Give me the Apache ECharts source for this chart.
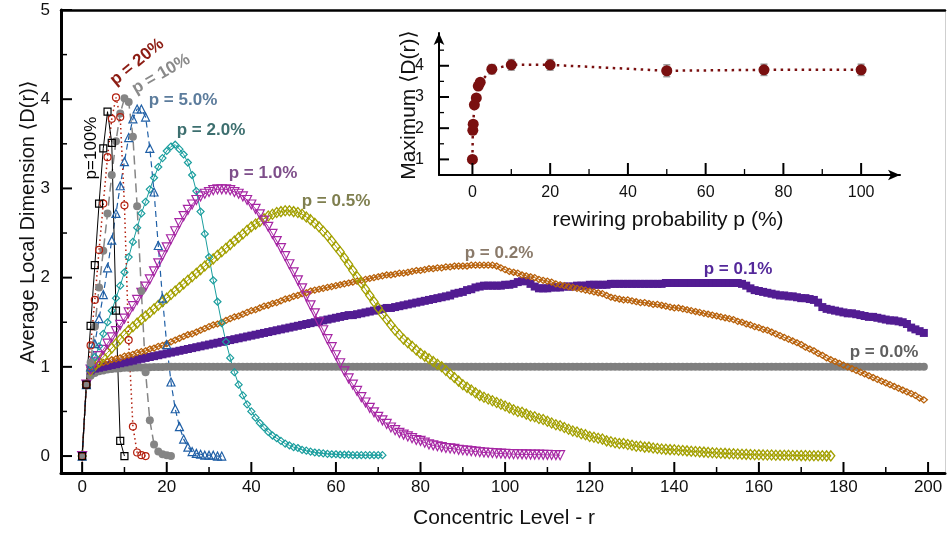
<!DOCTYPE html>
<html><head><meta charset="utf-8">
<script src="https://cdn.jsdelivr.net/npm/echarts@6/dist/echarts.min.js"></script>
<style>html,body{margin:0;padding:0;background:#fff}#c{width:950px;height:533px}</style>
</head><body><div id="c"></div>
<script>
// ---------- ticks ----------
const mainXMajor=[0,20,40,60,80,100,120,140,160,180,200];
const mainXMinor=[10,30,50,70,90,110,130,150,170,190];
const mainYMajor=[0,1,2,3,4,5];
const mainYMinor=[0.5,1.5,2.5,3.5,4.5];
const insetXMajor=[0,20,40,60,80,100];
const insetXMinor=[10,30,50,70,90];
const insetYMajor=[1,2,3,4];
const insetYMinor=[1.5,2.5,3.5,4.5];

// ---------- main series: <D(r)> at r = 0,1,2,... ----------
const p100=[0,0.8,1.46,2.14,2.83,3.45,3.86,3.51,1.63,0.17,0];
const p20=[0,0.8,1.24,1.75,2.31,2.83,3.35,3.78,4.02,3.8,2.81,1.3,0.33,0.04,0.01,0];
const p10=[0,0.8,1.05,1.45,1.89,2.3,2.72,3.15,3.53,3.84,4.01,3.97,3.58,2.8,1.85,0.94,0.4,0.13,0.05,0.02,0.01,0.0];
const p5=[0,0.8,1.0,1.26,1.54,1.81,2.11,2.42,2.72,3.03,3.3,3.57,3.78,3.89,3.89,3.8,3.45,2.96,2.36,1.77,1.25,0.83,0.53,0.33,0.19,0.1,0.05,0.03,0.02,0.01,0.01,0.01,0.0,0.0];
const p2=[0,0.8,1.02,1.11,1.23,1.37,1.5,1.63,1.77,1.91,
2.06,2.23,2.4,2.56,2.72,2.85,2.99,3.12,3.24,3.34,
3.42,3.47,3.49,3.44,3.38,3.29,3.15,2.97,2.74,2.49,
2.23,1.97,1.73,1.49,1.28,1.1,0.94,0.8,0.68,0.58,
0.5,0.43,0.37,0.32,0.27,0.23,0.2,0.17,0.14,0.12,
0.1,0.09,0.07,0.06,0.05,0.04,0.035,0.03,0.025,0.02,
0.02,0.015,0.015,0.015,0.01,0.01,0.01,0.01,0.01,0.01,
0.01,0.01];
const p1=[0,0.8,0.97,1.05,1.12,1.19,1.26,1.33,1.4,1.47,
1.54,1.61,1.68,1.75,1.83,1.9,1.98,2.07,2.16,2.25,
2.34,2.43,2.52,2.61,2.69,2.76,2.82,2.87,2.91,2.94,
2.96,2.98,2.99,2.99,2.99,2.98,2.96,2.94,2.91,2.87,
2.82,2.77,2.71,2.64,2.57,2.49,2.41,2.33,2.24,2.15,
2.06,1.97,1.88,1.79,1.69,1.6,1.5,1.41,1.31,1.22,
1.13,1.04,0.95,0.87,0.8,0.73,0.66,0.6,0.54,0.49,
0.44,0.4,0.36,0.32,0.29,0.26,0.24,0.22,0.2,0.18,
0.17,0.15,0.13,0.12,0.11,0.1,0.09,0.085,0.08,0.07,
0.065,0.06,0.055,0.05,0.045,0.04,0.037,0.034,0.031,0.028,
0.025,0.023,0.021,0.02,0.019,0.018,0.017,0.016,0.015,0.014,
0.013,0.012,0.011,0.01];
const p05=[0,0.8,0.96,1.01,1.06,1.11,1.16,1.21,1.26,1.31,
1.36,1.41,1.45,1.49,1.53,1.57,1.61,1.65,1.69,1.73,
1.77,1.81,1.85,1.89,1.93,1.97,2.01,2.05,2.09,2.13,
2.17,2.21,2.25,2.29,2.33,2.37,2.41,2.45,2.49,2.53,
2.57,2.6,2.63,2.66,2.69,2.71,2.73,2.74,2.75,2.75,
2.74,2.73,2.71,2.68,2.65,2.61,2.57,2.52,2.47,2.41,
2.35,2.29,2.22,2.15,2.08,2.01,1.94,1.87,1.8,1.73,
1.66,1.59,1.53,1.47,1.41,1.36,1.31,1.27,1.23,1.19,
1.15,1.12,1.09,1.06,1.03,1.0,0.96,0.92,0.88,0.84,
0.8,0.77,0.74,0.71,0.68,0.66,0.64,0.62,0.6,0.58,
0.56,0.54,0.52,0.5,0.49,0.47,0.45,0.44,0.42,0.41,
0.39,0.37,0.35,0.34,0.32,0.3,0.28,0.27,0.25,0.24,
0.22,0.21,0.2,0.19,0.17,0.16,0.15,0.14,0.14,0.13,
0.12,0.11,0.11,0.1,0.1,0.09,0.085,0.08,0.075,0.072,
0.07,0.066,0.062,0.058,0.054,0.05,0.047,0.044,0.041,0.038,
0.035,0.032,0.03,0.027,0.025,0.022,0.02,0.019,0.017,0.015,
0.014,0.013,0.012,0.011,0.01,0.009,0.008,0.008,0.007,0.006,
0.005,0.005,0.004,0.004,0.003,0.003,0.002,0.002];
const p02=[0,0.8,0.99,1.01,1.03,1.05,1.06,1.08,1.09,1.1,
1.12,1.13,1.14,1.16,1.17,1.18,1.2,1.21,1.23,1.24,
1.26,1.28,1.3,1.32,1.34,1.36,1.37,1.39,1.41,1.43,
1.45,1.47,1.48,1.5,1.52,1.54,1.56,1.57,1.59,1.61,
1.63,1.64,1.66,1.68,1.69,1.71,1.72,1.74,1.76,1.77,
1.79,1.8,1.82,1.83,1.85,1.86,1.87,1.88,1.89,1.9,
1.91,1.92,1.93,1.94,1.95,1.96,1.97,1.98,1.99,2.0,
2.01,2.02,2.03,2.03,2.04,2.05,2.05,2.06,2.07,2.08,
2.08,2.09,2.1,2.1,2.11,2.11,2.12,2.12,2.13,2.13,
2.13,2.13,2.14,2.14,2.14,2.14,2.14,2.14,2.13,2.11,
2.09,2.07,2.06,2.05,2.03,2.02,2.01,2.0,1.98,1.97,
1.96,1.95,1.93,1.92,1.91,1.9,1.89,1.88,1.87,1.86,
1.85,1.84,1.83,1.82,1.8,1.78,1.77,1.76,1.75,1.75,
1.74,1.73,1.72,1.72,1.71,1.7,1.7,1.69,1.68,1.67,
1.66,1.66,1.65,1.64,1.63,1.62,1.61,1.6,1.59,1.58,
1.57,1.56,1.55,1.54,1.53,1.51,1.5,1.48,1.47,1.45,
1.44,1.42,1.41,1.39,1.37,1.35,1.33,1.31,1.29,1.27,
1.25,1.22,1.2,1.18,1.15,1.13,1.1,1.08,1.06,1.04,
1.02,1.0,0.98,0.96,0.94,0.92,0.9,0.88,0.86,0.84,
0.82,0.8,0.78,0.76,0.74,0.72,0.7,0.68,0.65,0.63];
const p01=[0,0.8,0.96,0.98,0.99,1.0,1.01,1.02,1.03,1.04,
1.05,1.06,1.07,1.08,1.09,1.1,1.11,1.12,1.13,1.14,
1.15,1.16,1.17,1.18,1.19,1.2,1.21,1.22,1.23,1.24,
1.25,1.26,1.27,1.28,1.29,1.3,1.31,1.32,1.33,1.34,
1.35,1.36,1.37,1.38,1.39,1.4,1.41,1.42,1.43,1.44,
1.45,1.46,1.47,1.48,1.49,1.5,1.51,1.52,1.53,1.54,
1.55,1.56,1.57,1.58,1.58,1.59,1.6,1.61,1.62,1.63,
1.64,1.65,1.66,1.66,1.67,1.68,1.69,1.7,1.71,1.72,
1.73,1.74,1.75,1.76,1.77,1.78,1.79,1.8,1.82,1.83,
1.84,1.86,1.87,1.89,1.9,1.91,1.91,1.91,1.91,1.91,
1.92,1.92,1.93,1.95,1.96,1.96,1.93,1.9,1.88,1.88,
1.88,1.89,1.89,1.89,1.9,1.9,1.9,1.91,1.91,1.91,
1.92,1.92,1.92,1.92,1.92,1.93,1.93,1.93,1.93,1.93,
1.93,1.93,1.93,1.93,1.93,1.93,1.93,1.93,1.94,1.94,
1.94,1.94,1.94,1.94,1.94,1.94,1.94,1.94,1.94,1.94,
1.94,1.94,1.94,1.94,1.94,1.94,1.93,1.91,1.88,1.86,
1.85,1.84,1.83,1.82,1.81,1.8,1.8,1.79,1.79,1.78,
1.77,1.77,1.76,1.75,1.72,1.67,1.65,1.64,1.63,1.62,
1.61,1.6,1.6,1.59,1.58,1.57,1.56,1.56,1.55,1.54,
1.53,1.52,1.52,1.51,1.5,1.48,1.44,1.42,1.4,1.38];
const p00=[0,0.8,0.9,0.93,0.95,0.96,0.97,0.975,0.98,0.985,
0.99,0.99,0.99,0.992,0.994,0.995,0.996,0.997,0.998,0.999,
1,1,1,1,1,1,1,1,1,1, 1,1,1,1,1,1,1,1,1,1,
1,1,1,1,1,1,1,1,1,1, 1,1,1,1,1,1,1,1,1,1,
1,1,1,1,1,1,1,1,1,1, 1,1,1,1,1,1,1,1,1,1,
1,1,1,1,1,1,1,1,1,1, 1,1,1,1,1,1,1,1,1,1,
1,1,1,1,1,1,1,1,1,1, 1,1,1,1,1,1,1,1,1,1,
1,1,1,1,1,1,1,1,1,1, 1,1,1,1,1,1,1,1,1,1,
1,1,1,1,1,1,1,1,1,1, 1,1,1,1,1,1,1,1,1,1,
1,1,1,1,1,1,1,1,1,1, 1,1,1,1,1,1,1,1,1,1,
1,1,1,1,1,1,1,1,1,1, 1,1,1,1,1,1,1,1,1,1];

// ---------- inset: maximum <D(r)> vs rewiring probability ----------
const probs=[0,0.1,0.2,0.5,1,1.5,2,5,10,20,50,75,100];
const maxD=[1.0,1.93,2.13,2.75,2.97,3.35,3.47,3.89,4.03,4.03,3.84,3.87,3.87];
const errs=[0.03,0.05,0.05,0.06,0.08,0.1,0.1,0.15,0.17,0.17,0.19,0.18,0.18];

const FONT="'Liberation Sans','DejaVu Sans',sans-serif";
const toXY=a=>a.map((v,i)=>[i,v]);
const NONE='rgba(255,255,255,0)';

// frame data ranges
const MX0=-5, MX1=204, MY0=-0.19, MY1=5;
const IX0=-8.6, IX1=110, IY0=0.5, IY1=5.05;

function mainSeries(name,data,opt){
  return Object.assign({
    name:name,type:'line',xAxisIndex:0,yAxisIndex:0,data:toXY(data),
    showAllSymbol:true,silent:true,animation:false
  },opt);
}

const series=[
  mainSeries('p=0.0',p00,{symbol:'circle',symbolSize:8,itemStyle:{color:'#7f7f7f'},lineStyle:{color:'#7f7f7f',width:1}}),
  mainSeries('p=0.1',p01,{symbol:'rect',symbolSize:8,itemStyle:{color:'#521c92'},lineStyle:{color:'#521c92',width:1}}),
  mainSeries('p=0.2',p02,{symbol:'diamond',symbolSize:[7,6],itemStyle:{color:NONE,borderColor:'#b8620c',borderWidth:1.3},lineStyle:{color:'#b8620c',width:1}}),
  mainSeries('p=0.5',p05,{symbol:'diamond',symbolSize:[8,10],itemStyle:{color:NONE,borderColor:'#a3a000',borderWidth:1.3},lineStyle:{color:'#a3a000',width:1}}),
  mainSeries('p=1',p1,{symbol:'triangle',symbolRotate:180,symbolSize:9,itemStyle:{color:NONE,borderColor:'#a626a4',borderWidth:1.2},lineStyle:{color:'#a626a4',width:1}}),
  mainSeries('p=2',p2,{symbol:'diamond',symbolSize:7,itemStyle:{color:NONE,borderColor:'#1a9e9e',borderWidth:1.2},lineStyle:{color:'#1a9e9e',width:1}}),
  mainSeries('p=5',p5,{symbol:'triangle',symbolSize:8,itemStyle:{color:NONE,borderColor:'#1f5fa6',borderWidth:1.2},lineStyle:{color:'#1f5fa6',width:1.2,type:[6,4]}}),
  mainSeries('p=10',p10,{symbol:'circle',symbolSize:8,itemStyle:{color:'#858585'},lineStyle:{color:'#858585',width:1.5,type:[9,5]}}),
  mainSeries('p=20',p20,{symbol:'circle',symbolSize:7,itemStyle:{color:NONE,borderColor:'#b3200f',borderWidth:1.2},lineStyle:{color:'#b3200f',width:1.5,type:[1.5,3]}}),
  mainSeries('p=100',p100,{symbol:'rect',symbolSize:7,itemStyle:{color:NONE,borderColor:'#000',borderWidth:1.2},lineStyle:{color:'#000',width:1}}),
  {type:'line',xAxisIndex:2,yAxisIndex:2,silent:true,animation:false,z:5,
   data:probs.map((p,i)=>[p,maxD[i]]),
   symbol:'circle',symbolSize:11,showAllSymbol:true,
   itemStyle:{color:'#7a1010'},
   lineStyle:{color:'#7a1010',width:2.5,type:[2.5,4.5]}}
];

const lblStyle={fontFamily:FONT,color:'#111'};
function ax(o){return Object.assign({type:'value',splitLine:{show:false},axisTick:{show:false}},o);}
function lineOnly(o){return ax(Object.assign({axisLabel:{show:false}},o));}

const texts=[
  {type:'text',x:28,y:222,rotation:Math.PI/2,style:{text:'Average Local Dimension \u27E8D(r)\u27E9',font:'20px '+FONT,fill:'#111',align:'center',verticalAlign:'middle'}},
  {type:'text',x:504,y:518,style:{text:'Concentric Level - r',font:'21px '+FONT,fill:'#111',align:'center',verticalAlign:'middle'}},
  {type:'text',x:409,y:105,rotation:Math.PI/2,style:{text:'Maximum \u27E8D(r)\u27E9',font:'21px '+FONT,fill:'#111',align:'center',verticalAlign:'middle'}},
  {type:'text',x:668,y:220,style:{text:'rewiring probability p (%)',font:'21px '+FONT,fill:'#111',align:'center',verticalAlign:'middle'}},
  {type:'text',x:91,y:148,rotation:Math.PI/2,style:{text:'p=100%',font:'17px '+FONT,fill:'#000',align:'center',verticalAlign:'middle'}},
  {type:'text',x:137,y:62,rotation:0.68,style:{text:'p = 20%',font:'bold 17px '+FONT,fill:'#8c1c13',align:'center',verticalAlign:'middle'}},
  {type:'text',x:161,y:74,rotation:0.52,style:{text:'p = 10%',font:'bold 17px '+FONT,fill:'#8a8a8a',align:'center',verticalAlign:'middle'}},
  {type:'text',x:183,y:100,style:{text:'p = 5.0%',font:'bold 17px '+FONT,fill:'#5c7c9c',align:'center',verticalAlign:'middle'}},
  {type:'text',x:211,y:130,style:{text:'p = 2.0%',font:'bold 17px '+FONT,fill:'#3d6f6f',align:'center',verticalAlign:'middle'}},
  {type:'text',x:263,y:173,style:{text:'p = 1.0%',font:'bold 17px '+FONT,fill:'#7e4e8a',align:'center',verticalAlign:'middle'}},
  {type:'text',x:336,y:201,style:{text:'p = 0.5%',font:'bold 17px '+FONT,fill:'#7f7f4f',align:'center',verticalAlign:'middle'}},
  {type:'text',x:499,y:253,style:{text:'p = 0.2%',font:'bold 17px '+FONT,fill:'#8a7a6a',align:'center',verticalAlign:'middle'}},
  {type:'text',x:738,y:269,style:{text:'p = 0.1%',font:'bold 17px '+FONT,fill:'#54289a',align:'center',verticalAlign:'middle'}},
  {type:'text',x:884,y:352,style:{text:'p = 0.0%',font:'bold 17px '+FONT,fill:'#5f5f5f',align:'center',verticalAlign:'middle'}}
];

const option={
  backgroundColor:'#fff',
  animation:false,
  grid:[
    {left:61,top:10,right:5,bottom:60},
    {left:439,top:33,width:461,height:142}
  ],
  xAxis:[
    ax({gridIndex:0,position:'bottom',min:MX0,max:MX1,
      axisLine:{onZero:false,lineStyle:{color:'#000',width:3}},
      axisLabel:Object.assign({customValues:mainXMajor,fontSize:17,margin:6},lblStyle)}),
    lineOnly({gridIndex:0,position:'top',min:MX0,max:MX1,axisLine:{onZero:false,lineStyle:{color:'#000',width:2.5}}}),
    ax({gridIndex:1,position:'bottom',min:IX0,max:IX1,
      axisLine:{onZero:false,symbol:['none','arrow'],symbolSize:[8,12],lineStyle:{color:'#000',width:2}},
      axisLabel:Object.assign({customValues:insetXMajor,fontSize:16,margin:10},lblStyle)})
  ],
  yAxis:[
    ax({gridIndex:0,position:'left',min:MY0,max:MY1,
      axisLine:{onZero:false,lineStyle:{color:'#000',width:3}},
      axisLabel:Object.assign({customValues:mainYMajor,fontSize:17,margin:11},lblStyle)}),
    lineOnly({gridIndex:0,position:'right',min:MY0,max:MY1,axisLine:{onZero:false,lineStyle:{color:'#cfcfcf',width:1}}}),
    ax({gridIndex:1,position:'left',min:IY0,max:IY1,
      axisLine:{onZero:false,symbol:['none','arrow'],symbolSize:[8,12],lineStyle:{color:'#000',width:2}},
      axisLabel:Object.assign({customValues:insetYMajor,fontSize:16,margin:15},lblStyle)})
  ],
  series:series,
  graphic:texts
};
const chart=echarts.init(document.getElementById('c'),null,{renderer:'canvas'});
chart.setOption(option);

// tick marks and error bars, positioned through the chart's own axis scales
const extra=[];
function px(gi,pt){return chart.convertToPixel({gridIndex:gi},pt);}
function xTicks(gi,vals,base,len,w){
  vals.forEach(v=>{const p=px(gi,[v,base]);
    extra.push({type:'rect',z:100,shape:{x:p[0]-w/2,y:p[1]-len,width:w,height:len},style:{fill:'#000'}});});
}
function yTicks(gi,vals,base,len,w){
  vals.forEach(v=>{const p=px(gi,[base,v]);
    extra.push({type:'rect',z:100,shape:{x:p[0],y:p[1]-w/2,width:len,height:w},style:{fill:'#000'}});});
}
xTicks(0,mainXMajor,MY0,11,2);
xTicks(0,mainXMinor,MY0,6,1.5);
yTicks(0,mainYMajor,MX0,11,2);
yTicks(0,mainYMinor,MX0,6,1.5);
xTicks(1,insetXMajor,IY0,12,2);
xTicks(1,insetXMinor,IY0,6,1.3);
yTicks(1,insetYMajor,IX0,10,2);
yTicks(1,insetYMinor,IX0,5,1.3);
probs.forEach((p,i)=>{
  const a=px(1,[p,maxD[i]-errs[i]]), b=px(1,[p,maxD[i]+errs[i]]);
  extra.push({type:'rect',z:1,shape:{x:a[0]-0.75,y:b[1],width:1.5,height:a[1]-b[1]},style:{fill:'#9a9a9a'}});
  extra.push({type:'rect',z:1,shape:{x:a[0]-3.5,y:a[1]-0.75,width:7,height:1.5},style:{fill:'#9a9a9a'}});
  extra.push({type:'rect',z:1,shape:{x:b[0]-3.5,y:b[1]-0.75,width:7,height:1.5},style:{fill:'#9a9a9a'}});
});
chart.setOption({graphic:texts.concat(extra)});
</script></body></html>
